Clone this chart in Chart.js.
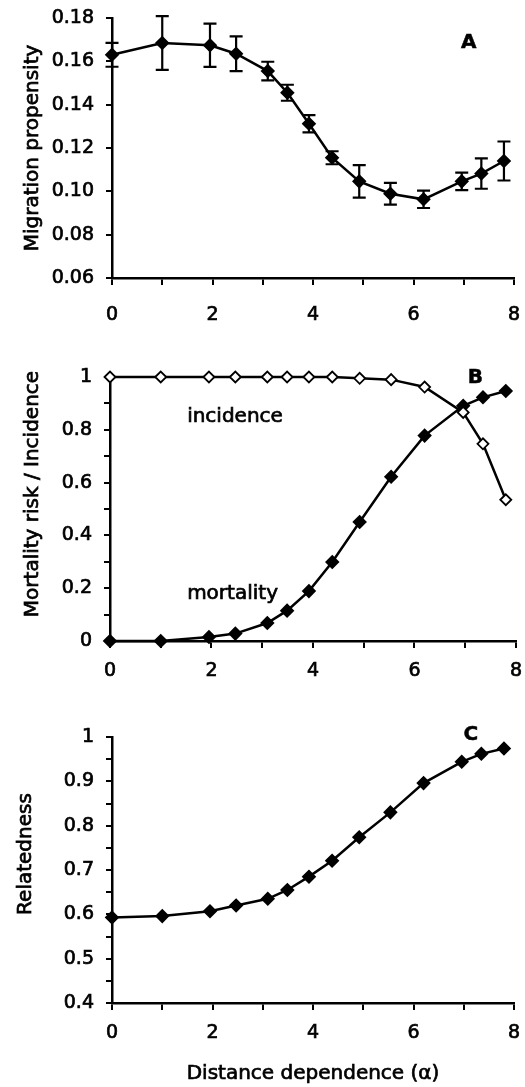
<!DOCTYPE html>
<html>
<head>
<meta charset="utf-8">
<script src="https://cdn.jsdelivr.net/npm/chart.js@4.4.1/dist/chart.umd.min.js"></script>
<style>
  html, body { margin: 0; padding: 0; background: #fff; }
  #wrap { position: relative; width: 525px; height: 1087px; background: #fff; }
  canvas { position: absolute; left: 0; }
</style>
</head>
<body>
<div id="wrap">
  <canvas id="cA" width="525" height="335" style="top:0px"></canvas>
  <canvas id="cB" width="525" height="355" style="top:335px"></canvas>
  <canvas id="cC" width="525" height="397" style="top:690px"></canvas>
</div>
<script>
// ---- data ----
const alphaValues = [0, 1, 1.95, 2.47, 3.1, 3.49, 3.92, 4.38, 4.92, 5.54, 6.2, 6.96, 7.35, 7.8];
const migration    = [0.163, 0.1685, 0.1674, 0.1635, 0.1555, 0.1455, 0.1312, 0.1155, 0.1046, 0.0989, 0.0963, 0.1046, 0.1082, 0.114];
const migrationErr = [0.0055, 0.0124, 0.010, 0.008, 0.0043, 0.0037, 0.004, 0.003, 0.0075, 0.005, 0.004, 0.004, 0.007, 0.009];
const incidence    = [1, 1, 1, 1, 1, 1, 1, 1, 0.995, 0.99, 0.962, 0.866, 0.747, 0.535];
const mortality    = [0, 0, 0.015, 0.028, 0.068, 0.115, 0.189, 0.299, 0.451, 0.622, 0.778, 0.891, 0.923, 0.947];
const relatedness  = [0.593, 0.596, 0.607, 0.620, 0.635, 0.655, 0.685, 0.721, 0.774, 0.830, 0.896, 0.944, 0.962, 0.974];
const xTickLabels  = ['0', '2', '4', '6', '8'];
const titleA = 'Migration propensity';
const titleB = 'Mortality risk / Incidence';
const titleC = 'Relatedness';
const titleX = 'Distance dependence (\u03b1)';

const FONT = '"DejaVu Sans", "Liberation Sans", Arial, sans-serif';
const TEXT_STROKE = 0.7;
const toXY = ys => alphaValues.map((x, i) => ({ x: x, y: ys[i] }));

// error bars (drawn from data through the scales)
const errorBarPlugin = {
  id: 'errorBars',
  beforeDatasetsDraw(chart, args, opts) {
    if (!opts || !opts.values) return;
    const ctx = chart.ctx, xs = chart.scales.x, ys = chart.scales.y;
    ctx.save();
    ctx.strokeStyle = '#000';
    ctx.lineWidth = 2.2;
    opts.values.forEach((v, i) => {
      const px = xs.getPixelForValue(alphaValues[i]);
      const top = ys.getPixelForValue(v + opts.errors[i]);
      const bot = ys.getPixelForValue(v - opts.errors[i]);
      ctx.beginPath();
      ctx.moveTo(px, top); ctx.lineTo(px, bot);
      ctx.moveTo(px - 6.5, top); ctx.lineTo(px + 6.5, top);
      ctx.moveTo(px - 6.5, bot); ctx.lineTo(px + 6.5, bot);
      ctx.stroke();
    });
    ctx.restore();
  }
};

// texts: axis titles and annotations
const textPlugin = {
  id: 'texts',
  afterDraw(chart, args, opts) {
    const ctx = chart.ctx, a = chart.chartArea;
    ctx.save();
    ctx.fillStyle = '#000';
    ctx.strokeStyle = '#000';
    (opts.items || []).forEach(it => {
      ctx.font = it.font;
      ctx.textAlign = it.align || 'center';
      ctx.textBaseline = it.baseline || 'middle';
      let px, py;
      if (it.data) {
        px = chart.scales.x.getPixelForValue(it.data[0]);
        py = chart.scales.y.getPixelForValue(it.data[1]);
      } else {
        px = it.px;
        py = (a.top + a.bottom) / 2 + (it.dy || 0);
        if (it.py !== undefined) py = it.py;
      }
      ctx.save();
      ctx.translate(px, py);
      if (it.rot) ctx.rotate(it.rot);
      ctx.fillText(it.text, 0, 0);
      if (it.stroke) { ctx.lineWidth = it.stroke; ctx.strokeText(it.text, 0, 0); }
      ctx.restore();
    });
    ctx.restore();
  }
};

function makeOptions(H, area, yCfg, texts, errors) {
  return {
    responsive: false,
    animation: false,
    events: [],
    layout: { padding: { top: area.top, right: 525 - area.right, left: 0, bottom: 0 } },
    plugins: {
      legend: { display: false },
      tooltip: { enabled: false },
      errorBars: errors || {},
      texts: { items: texts }
    },
    scales: {
      x: {
        type: 'linear',
        min: 0, max: 8,
        afterFit: s => { s.height = H - area.bottom; },
        border: { display: true, color: '#000', width: 2.5 },
        grid: { drawOnChartArea: false, drawTicks: true, tickLength: 7, color: '#000', lineWidth: 2 },
        ticks: {
          stepSize: 1, autoSkip: false, maxRotation: 0, padding: 3,
          color: '#000', font: { family: FONT, size: 19, lineHeight: area.xLabelLH },
          textStrokeColor: '#000', textStrokeWidth: TEXT_STROKE,
          callback: v => (Number.isInteger(v) && v % 2 === 0) ? xTickLabels[v / 2] : ''
        }
      },
      y: {
        type: 'linear',
        min: yCfg.min, max: yCfg.max,
        afterFit: s => { s.width = area.left; },
        border: { display: true, color: '#000', width: 2.5 },
        grid: { drawOnChartArea: false, drawTicks: true, tickLength: 6, color: '#000', lineWidth: 2 },
        ticks: {
          stepSize: yCfg.step, autoSkip: false, padding: 12,
          color: '#000', font: { family: FONT, size: 19, lineHeight: 0.5 },
          textStrokeColor: '#000', textStrokeWidth: TEXT_STROKE,
          callback: yCfg.cb
        }
      }
    }
  };
}

const lineDs = (data, fill, r) => ({
  data: data,
  borderColor: '#000',
  borderWidth: 2.5,
  tension: 0,
  pointStyle: 'rectRot',
  pointRadius: r,
  pointBackgroundColor: fill,
  pointBorderColor: '#000',
  pointBorderWidth: 1.8,
  clip: false
});

const tf = (size, bold) => (bold ? 'bold ' : '') + size + 'px ' + FONT;

// Panel A
const areaA = { left: 112, right: 514, top: 18, bottom: 278, xLabelLH: '54px' };
new Chart(document.getElementById('cA'), {
  type: 'line',
  data: { datasets: [lineDs(toXY(migration), '#000', 6)] },
  options: makeOptions(335, areaA,
    { min: 0.06, max: 0.18, step: 0.02, cb: v => v.toFixed(2) },
    [
      { text: titleA, px: 33, dy: 0, rot: -Math.PI / 2, font: tf(20), stroke: TEXT_STROKE },
      { text: 'A', data: [7.1, 0.1685], font: tf(20, true), stroke: 0.5 }
    ],
    { values: migration, errors: migrationErr }),
  plugins: [errorBarPlugin, textPlugin]
});

// Panel B
const areaB = { left: 110, right: 517, top: 42, bottom: 306, xLabelLH: '40px' };
new Chart(document.getElementById('cB'), {
  type: 'line',
  data: { datasets: [lineDs(toXY(incidence), '#fff', 5.5), lineDs(toXY(mortality), '#000', 6)] },
  options: makeOptions(355, areaB,
    { min: 0, max: 1, step: 0.1, cb: v => { const k = Math.round(v * 10); return k % 2 === 0 ? String(k / 10) : ''; } },
    [
      { text: titleB, px: 33, dy: -15, rot: -Math.PI / 2, font: tf(20), stroke: TEXT_STROKE },
      { text: 'B', data: [7.2, 0.997], font: tf(20, true), stroke: 0.5 },
      { text: 'incidence', data: [1.52, 0.831], align: 'left', baseline: 'alphabetic', font: tf(20), stroke: TEXT_STROKE },
      { text: 'mortality', data: [1.52, 0.160], align: 'left', baseline: 'alphabetic', font: tf(20), stroke: TEXT_STROKE }
    ]),
  plugins: [errorBarPlugin, textPlugin]
});

// Panel C
const areaC = { left: 112, right: 514, top: 47, bottom: 313, xLabelLH: '40px' };
new Chart(document.getElementById('cC'), {
  type: 'line',
  data: { datasets: [lineDs(toXY(relatedness), '#000', 6)] },
  options: makeOptions(397, areaC,
    { min: 0.4, max: 1, step: 0.05, cb: v => { const k = Math.round(v * 100); return k % 10 === 0 ? String(k / 100) : ''; } },
    [
      { text: titleC, px: 26, dy: -16, rot: -Math.PI / 2, font: tf(20), stroke: TEXT_STROKE },
      { text: 'C', data: [7.14, 1.006], font: tf(20, true), stroke: 0.5 },
      { text: titleX, px: 313, py: 384, font: tf(20), stroke: TEXT_STROKE }
    ]),
  plugins: [errorBarPlugin, textPlugin]
});
</script>
</body>
</html>
